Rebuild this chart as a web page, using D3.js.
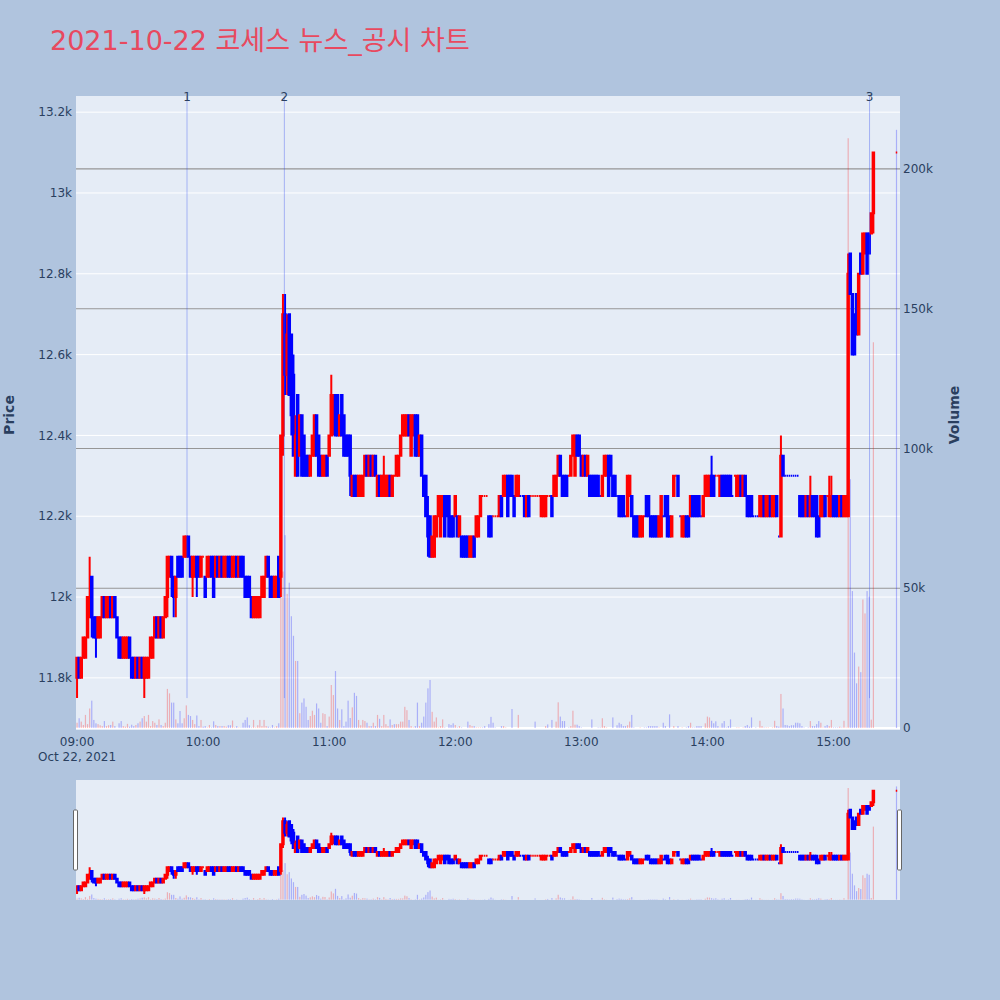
<!DOCTYPE html>
<html>
<head>
<meta charset="utf-8">
<script src="https://cdn.jsdelivr.net/npm/d3@7"></script>
<style>
  body { margin: 0; background: #b0c4de; }
  text { font-family: "DejaVu Sans", "Noto Sans CJK KR", sans-serif; }
</style>
</head>
<body>
<svg id="chart" width="1000" height="1000"></svg>
<script>
// ---- data: 1-minute candles, 09:00 - 15:19, then the 15:30 closing auction ----
var titleText = '2021-10-22 코세스 뉴스_공시 차트';
var sessionStart = new Date(2021, 9, 22, 9, 0);
var continuousEnd = new Date(2021, 9, 22, 15, 20);
var closingAuction = new Date(2021, 9, 22, 15, 30);

var open = [
  11800,11850,11800,11850,11850,11900,11950,12050,11950,11950,
  11900,11900,11950,12000,11950,11950,12000,11950,12000,11950,
  11900,11900,11850,11850,11850,11900,11850,11850,11800,11850,
  11800,11850,11800,11800,11800,11850,11850,11900,11950,11900,
  11950,11900,11950,12000,12050,12100,12050,12000,12100,12100,
  12100,12100,12100,12150,12100,12050,12050,12100,12100,12050,
  12100,12050,12050,12050,12100,12100,12050,12100,12050,12100,
  12050,12050,12100,12100,12050,12050,12100,12050,12100,12100,
  12050,12050,12050,12000,11950,11950,11950,11950,12000,12000,
  12050,12100,12050,12050,12000,12000,12100,12050,12400,12700,
  12550,12700,12650,12550,12300,12500,12350,12450,12400,12350,
  12350,12300,12350,12350,12450,12400,12350,12300,12300,12350,
  12350,12400,12450,12500,12500,12400,12500,12450,12400,12400,
  12400,12250,12300,12300,12250,12250,12250,12300,12350,12300,
  12350,12300,12350,12250,12300,12250,12250,12250,12250,12300,
  12250,12300,12300,12300,12350,12400,12400,12400,12450,12350,
  12400,12450,12450,12350,12400,12300,12300,12200,12200,12100,
  12100,12150,12200,12150,12200,12250,12250,12250,12200,12200,
  12200,12200,12150,12150,12150,12150,12150,12100,12100,12150,
  12150,12150,12200,12250,12250,12250,12200,12200,12200,12200,
  12200,12200,12250,12250,12250,12300,12300,12300,12250,12250,
  12250,12250,12250,12250,12200,12250,12250,12250,12250,12250,
  12250,12200,12200,12200,12250,12250,12250,12250,12250,12300,
  12350,12300,12300,12300,12300,12300,12350,12300,12400,12400,
  12350,12300,12350,12300,12300,12300,12300,12300,12300,12250,
  12250,12300,12300,12350,12350,12300,12300,12250,12250,12250,
  12250,12200,12200,12250,12250,12200,12200,12200,12150,12150,
  12200,12250,12250,12200,12200,12200,12200,12150,12150,12200,
  12250,12250,12200,12150,12250,12300,12300,12200,12150,12150,
  12200,12200,12200,12250,12250,12250,12250,12200,12200,12250,
  12250,12250,12300,12300,12300,12300,12250,12300,12300,12300,
  12300,12300,12250,12300,12250,12250,12300,12250,12300,12250,
  12250,12250,12200,12200,12200,12200,12200,12250,12200,12200,
  12250,12200,12200,12250,12150,12150,12350,12300,12300,12300,
  12300,12300,12300,12300,12250,12250,12250,12200,12250,12200,
  12250,12250,12250,12200,12200,12200,12250,12250,12200,12200,
  12250,12250,12250,12200,12250,12200,12200,12200,12850,12750,
  12700,12750,12650,12850,12800,12850,12900,12900,12900,12950,
  13100
];
var high = [
  11850,11850,11850,11900,11900,12000,12100,12050,11950,11950,
  11950,11950,12000,12000,12000,12000,12000,12000,12000,11950,
  11900,11900,11900,11900,11900,11900,11850,11850,11850,11850,
  11850,11850,11850,11850,11850,11900,11900,11950,11950,11950,
  11950,11950,12000,12100,12100,12100,12050,12050,12100,12100,
  12100,12150,12150,12150,12100,12100,12100,12100,12100,12100,
  12100,12050,12100,12100,12100,12100,12100,12100,12100,12100,
  12100,12100,12100,12100,12100,12100,12100,12100,12100,12100,
  12050,12050,12050,12000,12000,12000,12000,12000,12050,12050,
  12100,12100,12050,12050,12050,12050,12100,12400,12750,12750,
  12700,12700,12650,12600,12450,12500,12450,12450,12400,12350,
  12350,12350,12400,12450,12450,12400,12350,12350,12350,12350,
  12400,12550,12500,12500,12500,12450,12500,12450,12400,12400,
  12400,12300,12300,12300,12300,12300,12300,12350,12350,12350,
  12350,12350,12350,12300,12300,12300,12350,12300,12300,12300,
  12300,12300,12350,12350,12400,12450,12450,12450,12450,12450,
  12450,12450,12450,12400,12400,12300,12300,12250,12200,12150,
  12200,12200,12250,12250,12250,12250,12250,12250,12200,12200,
  12250,12200,12200,12150,12150,12150,12150,12150,12150,12150,
  12200,12200,12250,12250,12250,12250,12200,12200,12200,12200,
  12200,12250,12250,12300,12300,12300,12300,12300,12250,12300,
  12300,12250,12250,12250,12250,12250,12250,12250,12250,12250,
  12250,12250,12250,12250,12250,12250,12250,12300,12300,12350,
  12350,12300,12300,12300,12300,12350,12400,12400,12400,12400,
  12350,12350,12350,12350,12300,12300,12300,12300,12300,12250,
  12300,12350,12350,12350,12350,12300,12300,12250,12250,12250,
  12250,12200,12300,12300,12250,12200,12200,12200,12200,12200,
  12200,12250,12250,12200,12200,12200,12200,12200,12250,12200,
  12250,12250,12200,12200,12300,12300,12300,12200,12200,12200,
  12200,12200,12250,12250,12250,12250,12250,12200,12250,12300,
  12300,12300,12350,12300,12300,12300,12300,12300,12300,12300,
  12300,12300,12250,12300,12300,12300,12300,12300,12300,12250,
  12250,12250,12200,12200,12200,12250,12250,12250,12250,12250,
  12250,12250,12250,12250,12150,12400,12350,12300,12300,12300,
  12300,12300,12300,12300,12250,12250,12250,12250,12250,12300,
  12250,12250,12250,12200,12250,12250,12250,12250,12300,12300,
  12250,12250,12250,12250,12250,12250,12250,12850,12850,12750,
  12700,12750,12800,12850,12900,12900,12900,12900,12950,13100,
  13100
];
var low = [
  11750,11800,11800,11850,11850,11900,11950,11900,11900,11850,
  11900,11900,11950,11950,11950,11950,11950,11950,11950,11900,
  11850,11850,11850,11850,11850,11850,11800,11800,11800,11800,
  11800,11800,11750,11800,11800,11850,11850,11900,11900,11900,
  11900,11900,11950,11950,12050,12000,11950,11950,12050,12050,
  12050,12100,12100,12100,12050,12000,12050,12000,12050,12050,
  12100,12000,12050,12050,12050,12000,12050,12050,12050,12050,
  12050,12050,12050,12050,12050,12050,12050,12050,12050,12050,
  12000,12000,12000,11950,11950,11950,11950,11950,12000,12000,
  12050,12050,12000,12000,12000,12000,12000,12000,12350,12500,
  12500,12500,12400,12350,12300,12300,12350,12300,12300,12300,
  12300,12300,12350,12350,12350,12300,12300,12300,12300,12300,
  12350,12400,12400,12400,12400,12400,12400,12350,12350,12350,
  12250,12250,12250,12250,12250,12250,12250,12300,12300,12300,
  12300,12300,12300,12250,12250,12250,12250,12250,12250,12250,
  12250,12300,12300,12300,12350,12400,12400,12400,12400,12350,
  12400,12350,12350,12350,12300,12250,12200,12100,12100,12100,
  12100,12150,12200,12150,12200,12150,12200,12150,12150,12150,
  12200,12150,12150,12100,12100,12100,12100,12100,12100,12100,
  12150,12150,12200,12250,12250,12250,12150,12150,12200,12200,
  12200,12200,12200,12250,12250,12200,12250,12250,12200,12250,
  12250,12250,12250,12200,12200,12200,12250,12250,12250,12250,
  12250,12200,12200,12200,12250,12250,12200,12250,12250,12300,
  12300,12250,12250,12250,12300,12300,12350,12300,12350,12350,
  12300,12300,12300,12300,12250,12250,12250,12250,12250,12250,
  12250,12300,12300,12250,12300,12250,12250,12250,12200,12200,
  12200,12200,12200,12250,12200,12150,12150,12150,12150,12150,
  12200,12200,12200,12150,12150,12150,12150,12150,12150,12200,
  12200,12150,12150,12150,12250,12300,12250,12200,12150,12150,
  12150,12150,12200,12200,12200,12200,12200,12200,12200,12250,
  12250,12250,12250,12250,12300,12300,12250,12250,12250,12250,
  12250,12250,12250,12300,12250,12250,12250,12250,12250,12200,
  12200,12200,12200,12200,12200,12200,12200,12200,12200,12200,
  12200,12200,12200,12200,12150,12150,12300,12300,12300,12300,
  12300,12300,12300,12300,12200,12200,12200,12200,12200,12200,
  12200,12200,12150,12150,12200,12200,12200,12250,12200,12200,
  12200,12200,12200,12200,12200,12200,12200,12200,12750,12600,
  12600,12650,12650,12800,12800,12850,12800,12850,12900,12900,
  13100
];
var close = [
  11850,11800,11850,11900,11900,12000,12000,11950,11900,11900,
  11950,11950,12000,11950,12000,12000,11950,12000,11950,11900,
  11850,11850,11900,11900,11900,11850,11800,11800,11850,11800,
  11850,11800,11850,11850,11850,11900,11900,11950,11900,11950,
  11900,11950,12000,12100,12100,12050,12000,12050,12050,12050,
  12050,12150,12150,12100,12050,12100,12100,12050,12050,12100,
  12100,12000,12100,12100,12050,12000,12100,12050,12100,12050,
  12100,12100,12050,12050,12100,12100,12050,12100,12050,12050,
  12000,12000,12000,11950,12000,12000,12000,12000,12050,12050,
  12100,12050,12000,12000,12050,12050,12000,12400,12700,12550,
  12650,12500,12450,12350,12400,12300,12450,12300,12300,12300,
  12300,12350,12400,12450,12350,12300,12300,12350,12350,12300,
  12400,12500,12500,12400,12400,12450,12400,12350,12350,12350,
  12300,12300,12250,12250,12300,12300,12300,12350,12300,12350,
  12300,12350,12300,12300,12250,12300,12300,12300,12300,12250,
  12300,12300,12350,12350,12400,12450,12450,12450,12400,12450,
  12450,12350,12350,12400,12300,12250,12200,12150,12100,12150,
  12200,12200,12250,12250,12250,12150,12200,12150,12150,12150,
  12250,12150,12200,12100,12100,12100,12100,12150,12150,12100,
  12200,12200,12250,12250,12250,12250,12150,12150,12200,12200,
  12200,12250,12200,12300,12300,12200,12250,12250,12200,12300,
  12300,12250,12250,12200,12250,12200,12250,12250,12250,12250,
  12250,12250,12250,12250,12250,12250,12200,12300,12300,12350,
  12300,12250,12250,12250,12300,12350,12400,12400,12350,12350,
  12300,12350,12300,12350,12250,12250,12250,12250,12250,12250,
  12300,12350,12350,12250,12300,12250,12250,12250,12200,12200,
  12200,12200,12300,12300,12200,12150,12150,12150,12200,12200,
  12200,12200,12200,12150,12150,12150,12150,12200,12250,12200,
  12200,12150,12150,12200,12300,12300,12250,12200,12200,12200,
  12150,12150,12250,12200,12200,12200,12200,12200,12250,12300,
  12300,12300,12250,12250,12300,12300,12300,12250,12250,12250,
  12250,12250,12250,12300,12300,12300,12250,12300,12250,12200,
  12200,12200,12200,12200,12200,12250,12250,12200,12250,12250,
  12200,12250,12250,12200,12150,12350,12300,12300,12300,12300,
  12300,12300,12300,12300,12200,12200,12200,12250,12200,12250,
  12200,12200,12150,12150,12250,12250,12200,12250,12250,12250,
  12200,12200,12200,12250,12200,12250,12250,12800,12750,12600,
  12600,12650,12800,12800,12900,12900,12800,12850,12950,13100,
  13100
];
var volume = [
  1900,3500,2300,1100,4700,1400,7000,9800,2900,1700,
  1400,1000,700,2500,700,1000,1100,2300,700,100,
  1700,2500,700,500,1500,500,1200,700,1100,1700,
  2300,3500,4300,2300,4700,700,2500,1900,1100,3100,
  1100,700,1900,14000,12400,9100,9100,3100,1700,6100,
  1700,3500,8100,4700,4300,2900,1400,4500,700,2900,
  500,700,200,1100,200,2400,1100,700,700,700,
  700,500,1000,1000,2700,200,700,200,200,1900,
  2900,3800,1000,200,2900,200,1000,2900,700,2900,
  700,500,200,1100,200,700,1700,47000,56000,69000,
  48000,52000,40000,33000,24000,24000,5300,9100,10600,7600,
  2900,4300,6200,4700,8800,7000,1900,5300,5000,700,
  4100,15400,11800,20400,7000,2900,6700,700,2300,9800,
  3600,7400,12600,11500,2900,1000,2900,2500,1900,700,
  700,1900,700,4700,3300,700,4700,1400,700,3100,
  1100,1400,1400,1400,2300,2300,7600,6400,2900,700,
  200,700,9100,700,1900,4100,9100,14200,17200,5800,
  2300,3800,200,700,3100,200,0,1400,1100,1700,
  1100,200,700,200,0,0,2300,1100,700,700,
  200,200,200,200,700,0,1400,4000,1900,200,
  0,0,700,700,200,0,0,6800,0,0,
  4700,0,0,0,0,0,0,0,2300,0,
  0,0,0,700,1300,0,2900,0,2300,9200,
  4100,2500,2500,0,200,700,6200,1200,1200,700,
  200,0,0,0,0,3100,0,0,200,200,
  3500,700,200,0,0,3800,0,1000,1900,1400,
  700,700,1000,2300,4700,200,0,0,200,0,
  200,200,700,700,700,700,700,200,0,1900,
  700,0,4900,0,700,0,700,0,200,0,
  200,700,1900,200,200,700,700,700,0,1700,
  4100,3800,2600,1700,2400,700,200,1700,2500,200,
  700,3100,0,0,200,200,0,200,700,1100,
  500,3800,0,200,0,2600,700,200,200,200,
  0,200,2600,700,500,12200,7000,1100,1000,700,
  1000,1000,1900,1900,1700,700,200,0,200,2500,
  700,700,1400,2500,1900,200,700,1100,700,2900,
  200,200,200,500,200,2600,200,211000,89000,49000,
  27000,16000,22000,20000,46000,41000,49000,47000,3000,138000,
  214000
];

// news / disclosure markers
var newsLabels = ['1', '2', '3'];
var newsTimes = [
  new Date(2021, 9, 22, 9, 52, 20),
  new Date(2021, 9, 22, 10, 38, 40),
  new Date(2021, 9, 22, 15, 17, 10)
];

var priceTicks = [11800, 12000, 12200, 12400, 12600, 12800, 13000, 13200];
var volumeTicks = [0, 50000, 100000, 150000, 200000];
var volumeTickLabels = ['0', '50k', '100k', '150k', '200k'];

// ---- build rows ----
var times = d3.timeMinute.range(sessionStart, continuousEnd);
times.push(closingAuction);

var rows = times.map(function(t, i) {
  return { t: t, o: open[i], h: high[i], l: low[i], c: close[i], v: volume[i] };
});

// plotly-style direction: doji takes its direction from the previous close
var prevDir = true;
rows.forEach(function(d, i) {
  var dir;
  if (d.c > d.o) dir = true;
  else if (d.c < d.o) dir = false;
  else if (i > 0 && d.c > rows[i - 1].c) dir = true;
  else if (i > 0 && d.c < rows[i - 1].c) dir = false;
  else dir = prevDir;
  d.up = dir;
  prevDir = dir;
  d.volUp = d.c > d.o;
});

// ---- layout ----
var svg = d3.select('#chart');
var W = 1000, H = 1000;
var plot = { left: 76, right: 900, top: 96, bottom: 730 };
var slider = { top: 780, bottom: 900 };
var axisColor = '#2a3f5f';
var UP = '#ff0000', DOWN = '#0000ff';

svg.append('rect').attr('width', W).attr('height', H).attr('fill', '#b0c4de');

svg.append('text')
  .attr('x', 50).attr('y', 50)
  .attr('font-size', 27)
  .attr('fill', '#e8495f')
  .text(titleText);

var x = d3.scaleTime()
  .domain([new Date(2021, 9, 22, 8, 59, 30), new Date(2021, 9, 22, 15, 31, 40)])
  .range([plot.left, plot.right]);

var yPrice = d3.scaleLinear().domain([11671, 13240]).range([plot.bottom, plot.top]);
var yVol = d3.scaleLinear().domain([-700, 226100]).range([plot.bottom, plot.top]);

var ySliderPrice = yPrice.copy().range([slider.bottom, slider.top]);
var ySliderVol = yVol.copy().range([slider.bottom, slider.top]);

// main plot background + grid
svg.append('rect')
  .attr('x', plot.left).attr('y', plot.top)
  .attr('width', plot.right - plot.left).attr('height', plot.bottom - plot.top)
  .attr('fill', '#e5ecf6');

svg.append('g').selectAll('line')
  .data(priceTicks)
  .enter().append('line')
  .attr('x1', plot.left).attr('x2', plot.right)
  .attr('y1', function(d) { return yPrice(d); })
  .attr('y2', function(d) { return yPrice(d); })
  .attr('stroke', '#ffffff').attr('stroke-width', 1);

svg.append('g').selectAll('line')
  .data(volumeTicks)
  .enter().append('line')
  .attr('x1', plot.left).attr('x2', plot.right)
  .attr('y1', function(d) { return yVol(d); })
  .attr('y2', function(d) { return yVol(d); })
  .attr('stroke', function(d) { return d === 0 ? '#ffffff' : '#969696'; })
  .attr('stroke-width', function(d) { return d === 0 ? 2 : 1.2; });

// candles + volume, used for the main plot and the range slider
function drawSeries(g, yP, yV) {
  g.append('g').selectAll('rect')
    .data(rows.filter(function(d) { return d.v > 0; }))
    .enter().append('rect')
    .attr('x', function(d) { return x(d.t) - 0.6; })
    .attr('width', 1.2)
    .attr('y', function(d) { return yV(d.v); })
    .attr('height', function(d) { return yV(0) - yV(d.v); })
    .attr('fill', function(d) { return d.volUp ? UP : DOWN; })
    .attr('fill-opacity', 0.26);

  var bw = 1.5;
  g.append('g').selectAll('path')
    .data(rows)
    .enter().append('path')
    .attr('d', function(d) {
      var cx = x(d.t);
      var top = yP(Math.max(d.o, d.c)), bot = yP(Math.min(d.o, d.c));
      return 'M' + (cx - bw / 2) + ',' + bot + 'H' + (cx + bw / 2) + 'V' + top +
        'H' + (cx - bw / 2) + 'Z' +
        'M' + cx + ',' + bot + 'V' + yP(d.l) +
        'M' + cx + ',' + top + 'V' + yP(d.h);
    })
    .attr('fill', function(d) { return d.up ? UP : DOWN; })
    .attr('stroke', function(d) { return d.up ? UP : DOWN; })
    .attr('stroke-width', 2);
}

drawSeries(svg.append('g'), yPrice, yVol);

// news lines
var lowest = d3.min(low);
svg.append('g').selectAll('line')
  .data(newsTimes)
  .enter().append('line')
  .attr('x1', function(d) { return x(d); })
  .attr('x2', function(d) { return x(d); })
  .attr('y1', yPrice(lowest))
  .attr('y2', plot.top)
  .attr('stroke', 'rgba(40,70,240,0.35)')
  .attr('stroke-width', 1);

svg.append('g').selectAll('text')
  .data(newsTimes)
  .enter().append('text')
  .attr('x', function(d) { return x(d); })
  .attr('y', plot.top + 5)
  .attr('text-anchor', 'middle')
  .attr('font-size', 12)
  .attr('fill', axisColor)
  .text(function(d, i) { return newsLabels[i]; });

// price axis (left)
svg.append('g').selectAll('text')
  .data(priceTicks)
  .enter().append('text')
  .attr('x', plot.left - 4)
  .attr('y', function(d) { return yPrice(d); })
  .attr('dy', '0.35em')
  .attr('text-anchor', 'end')
  .attr('font-size', 12)
  .attr('fill', axisColor)
  .text(function(d) { return d3.format('~s')(d); });

// volume axis (right)
svg.append('g').selectAll('text')
  .data(volumeTicks)
  .enter().append('text')
  .attr('x', plot.right + 3)
  .attr('y', function(d) { return yVol(d); })
  .attr('dy', '0.35em')
  .attr('font-size', 12)
  .attr('fill', axisColor)
  .text(function(d, i) { return volumeTickLabels[i]; });

// time axis
var hourTicks = d3.timeHour.range(new Date(2021, 9, 22, 9), new Date(2021, 9, 22, 15, 1));
svg.append('g').selectAll('text')
  .data(hourTicks)
  .enter().append('text')
  .attr('x', function(d) { return x(d); })
  .attr('y', 746)
  .attr('text-anchor', 'middle')
  .attr('font-size', 12)
  .attr('fill', axisColor)
  .text(function(d) { return d3.timeFormat('%H:%M')(d); });

svg.append('text')
  .attr('x', x(hourTicks[0]))
  .attr('y', 761)
  .attr('text-anchor', 'middle')
  .attr('font-size', 12)
  .attr('fill', axisColor)
  .text('Oct 22, 2021');

svg.append('text')
  .attr('transform', 'translate(14,415) rotate(-90)')
  .attr('text-anchor', 'middle')
  .attr('font-size', 14).attr('font-weight', 'bold')
  .attr('fill', axisColor)
  .text('Price');

svg.append('text')
  .attr('transform', 'translate(959,415) rotate(-90)')
  .attr('text-anchor', 'middle')
  .attr('font-size', 14).attr('font-weight', 'bold')
  .attr('fill', axisColor)
  .text('Volume');

// range slider
svg.append('rect')
  .attr('x', plot.left).attr('y', slider.top)
  .attr('width', plot.right - plot.left).attr('height', slider.bottom - slider.top)
  .attr('fill', '#e5ecf6');

svg.append('clipPath').attr('id', 'sliderClip')
  .append('rect')
  .attr('x', plot.left).attr('y', slider.top)
  .attr('width', plot.right - plot.left).attr('height', slider.bottom - slider.top);

drawSeries(svg.append('g').attr('clip-path', 'url(#sliderClip)'), ySliderPrice, ySliderVol);

var sh = slider.bottom - slider.top;
[plot.left, plot.right].forEach(function(px) {
  svg.append('rect')
    .attr('x', px - 2.5).attr('y', slider.top + sh / 4)
    .attr('width', 4).attr('height', sh / 2)
    .attr('rx', 1)
    .attr('fill', '#ffffff').attr('stroke', '#666666').attr('stroke-width', 1);
});
</script>
</body>
</html>
